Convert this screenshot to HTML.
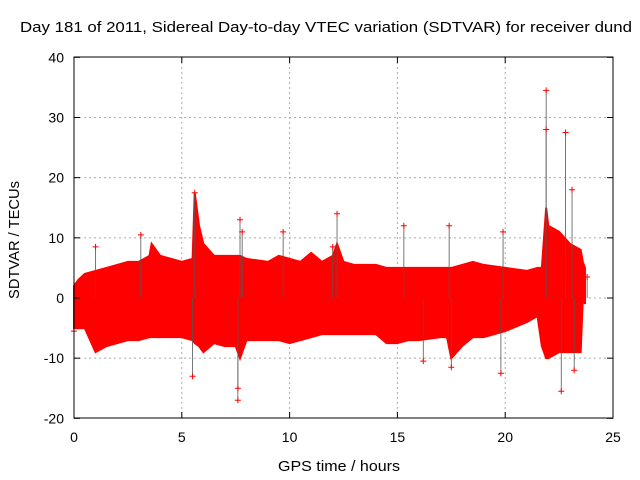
<!DOCTYPE html>
<html><head><meta charset="utf-8"><style>
body{margin:0;background:#fff}
svg{display:block;font-family:"Liberation Sans",sans-serif}
</style></head><body>
<svg id="chart" width="640" height="480" viewBox="0 0 640 480">
<text x="20" y="32" font-size="15" textLength="612" lengthAdjust="spacingAndGlyphs">Day 181 of 2011, Sidereal Day-to-day VTEC variation (SDTVAR) for receiver dund</text>
<g id="grid"></g>
<g id="marks"></g>
<rect x="74" y="57" width="539" height="361" fill="none" stroke="#000"/>
<g id="axes" font-size="14"></g>
<text x="339" y="471" font-size="15" textLength="122" lengthAdjust="spacingAndGlyphs" text-anchor="middle">GPS time / hours</text>
<text transform="translate(19,240) rotate(-90)" font-size="15" textLength="118" lengthAdjust="spacingAndGlyphs" text-anchor="middle">SDTVAR / TECUs</text>
</svg>
<script>
const xTicks=[0,5,10,15,20,25];
const yTicks=[-20,-10,0,10,20,30,40];
const hours=[0,0.2,0.5,1,1.5,2,2.5,3,3.5,3.6,4,4.5,5,5.5,5.6,5.8,6,6.5,7,7.5,7.7,8,9,9.5,10,10.5,11,11.5,12,12.2,12.5,13,14,14.5,15,15.5,16,17,17.3,17.5,18,18.5,19,20,21,21.5,21.7,21.9,22,22.5,23,23.5,23.6,23.7];
const upper=[2,3,4,4.5,5,5.5,6,6,7,9,7,6.5,6,6.5,17.5,12,9,7,7,7,7,6.5,6,7,6.5,6,7.5,6,7,9,6,5.5,5.5,5,5,5,5,5,5,5,5.5,6,5.5,5,4.5,5,5,15,12,11,9,8,6,5];
const lower=[-5,-5,-5,-9,-8,-7.5,-7,-7,-6.5,-6.5,-6.5,-6.5,-6.5,-7,-7.5,-8,-9,-7.5,-8,-8,-10,-7,-7,-7,-7.5,-7,-6.5,-6,-6,-6,-6,-6,-6,-7.5,-7.5,-7,-7,-6.5,-6.5,-10,-8,-6.5,-6.5,-5.5,-4,-3,-8,-10,-10,-9,-9,-9,0,-1];
const outX=[5.6,7.7,7.8,7.6,7.6,5.5,9.7,12.2,12,15.3,16.2,17.4,19.9,19.8,21.9,21.9,22.8,23.1,22.6,23.2,1,3.1,0,17.5,23.8];
const outY=[17.5,13,11,-17,-15,-13,11,14,8.5,12,-10.5,12,11,-12.5,34.5,28,27.5,18,-15.5,-12,8.5,10.5,-5.5,-11.5,3.5];
const X=h=>74+h*(539/25), Y=v=>298-v*(361/60);
const NS="http://www.w3.org/2000/svg";
function mk(t,a,p){const e=document.createElementNS(NS,t);for(const k in a)e.setAttribute(k,a[k]);p.appendChild(e);return e;}
const grid=document.getElementById('grid'),axes=document.getElementById('axes'),marks=document.getElementById('marks');
xTicks.forEach(t=>{
 if(t>0&&t<25){const l=mk('line',{x1:X(t),x2:X(t),y1:57,y2:418,stroke:'#aaa','stroke-dasharray':'2,3'},grid);
 }
 const tx=mk('text',{x:X(t),y:442,'text-anchor':'middle'},axes);tx.textContent=t;
 
 mk('line',{x1:X(t),x2:X(t),y1:418,y2:412,stroke:'#000'},axes);mk('line',{x1:X(t),x2:X(t),y1:57,y2:63,stroke:'#000'},axes);
});
yTicks.forEach(t=>{
 if(t>-20&&t<40){const l=mk('line',{x1:74,x2:613,y1:Y(t),y2:Y(t),stroke:'#aaa','stroke-dasharray':'2,3'},grid);
 }
 const tx=mk('text',{x:64,y:Y(t)+5,'text-anchor':'end'},axes);tx.textContent=t;
 
 mk('line',{x1:74,x2:80,y1:Y(t),y2:Y(t),stroke:'#000'},axes);mk('line',{x1:613,x2:607,y1:Y(t),y2:Y(t),stroke:'#000'},axes);
});
let pts=hours.map((h,i)=>X(h)+','+Y(upper[i]));
for(let i=hours.length-1;i>=0;i--)pts.push(X(hours[i])+','+Y(lower[i]));
const band=mk('polygon',{points:pts.join(' '),fill:'#f00',stroke:'#f00','stroke-width':2},marks);

outX.forEach((h,i)=>{
 const x=X(h),y=Y(outY[i]);
 const g=mk('g',{},marks);
 
 mk('line',{x1:x,x2:x,y1:Y(0),y2:y,stroke:'#555','stroke-width':0.8},g);
 mk('path',{d:`M${x-3},${y}h6M${x},${y-3}v6`,stroke:'#f00','stroke-width':1},g);
});
</script>
</body></html>
